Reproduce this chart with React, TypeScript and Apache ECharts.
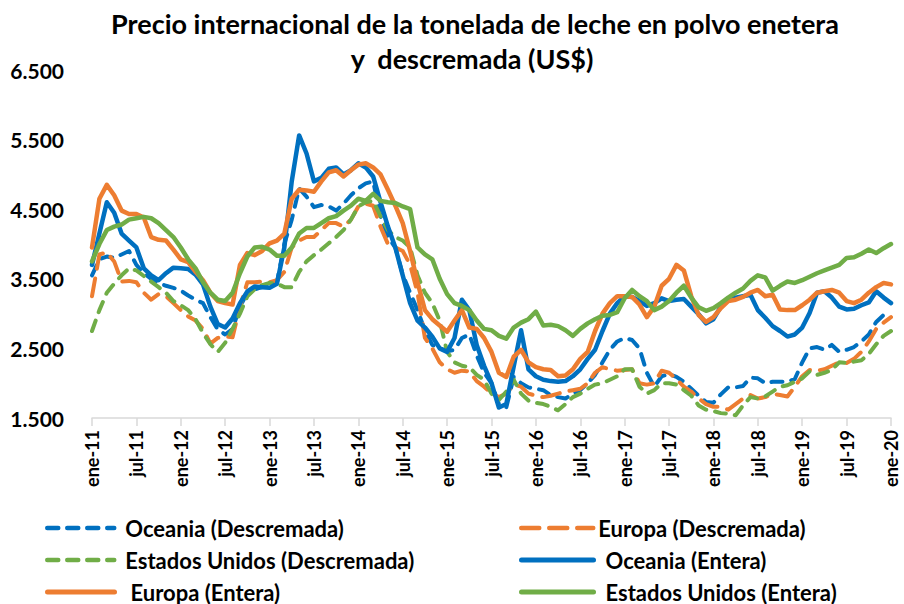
import React, { useEffect, useRef } from "react";
import * as echarts from "echarts";

const monthNames = ["ene", "feb", "mar", "abr", "may", "jun", "jul", "ago", "sep", "oct", "nov", "dic"];
const years = ["11", "12", "13", "14", "15", "16", "17", "18", "19"];
const categories: string[] = [];
years.forEach((y) => monthNames.forEach((m) => categories.push(`${m}-${y}`)));
categories.push("ene-20");

const yTicks = { min: 1500, max: 6500, step: 1000 };

const oceaniaDescremada = [
  3550, 3780, 3820, 3800, 3850, 3900, 3700, 3580, 3500, 3440, 3400, 3370,
  3330, 3260, 3200, 3150, 2950, 2770, 2700, 2780, 3100, 3300, 3350, 3380,
  3400, 3450, 4000, 4350, 4800, 4680, 4530, 4560, 4540, 4480, 4580, 4700,
  4800, 4870, 4900, 4400, 4100, 3950, 3560, 3300, 3050, 2760, 2550, 2500,
  2460, 2480, 2650, 2700, 2400, 2150, 2000, 1700, 1650, 2090, 2000, 1940,
  1920, 1900, 1830, 1800, 1780, 1850, 1900, 2000, 2120, 2300, 2480, 2600,
  2650, 2620, 2500, 2150, 1950, 2100, 2130, 2090, 2020, 1920, 1820, 1730,
  1720, 1840, 1940, 1940, 1960, 2080, 2070, 2000, 2020, 2020, 2020, 2060,
  2300, 2500, 2520, 2480, 2550, 2450, 2480, 2520, 2600, 2700, 2880, 2980,
  2980,
];

const europaDescremada = [
  3250, 3850, 3880, 3750, 3460, 3470, 3450, 3300, 3200, 3280, 3250, 3150,
  3050, 2960, 2900, 2780, 2570, 2650, 2670, 2660, 3100, 3450, 3450, 3460,
  3450, 3480, 3600, 3950, 4050, 4100, 4100, 4200, 4300, 4300, 4250, 4350,
  4540, 4580, 4550, 4250, 4000, 3950, 3900, 3700, 3300, 2650, 2500, 2300,
  2200, 2150, 2180, 2170, 2030, 1950, 1850, 1800, 1850, 1980, 1950, 1850,
  1820, 1800, 1820, 1850, 1880, 1900, 1920, 2000, 2150, 2230, 2200, 2180,
  2190, 2200, 2000, 1980, 2000, 2180, 2150, 2060, 1950, 1880, 1780, 1700,
  1660, 1660, 1620, 1700, 1780, 1830, 1780, 1800, 1850, 1830, 1810, 1950,
  2100, 2190, 2180, 2200, 2250, 2300, 2290, 2350, 2450, 2600, 2780, 2870,
  2950,
];

const eeuuDescremada = [
  2750, 3050, 3300, 3430, 3550, 3650, 3620, 3540, 3460, 3380, 3300, 3180,
  3120, 3050, 2920, 2720, 2560, 2450, 2580, 2780, 3000, 3250, 3350, 3410,
  3440, 3430, 3380, 3380, 3600, 3750, 3840, 3920, 4010, 4100, 4200, 4350,
  4540, 4600, 4620, 4400, 4200, 4100, 4050, 3950, 3550, 3300, 3150, 2900,
  2450, 2300, 2250, 2230, 2120, 2050, 1850, 1760, 1880, 2050, 1850, 1750,
  1720, 1700, 1660, 1610, 1700, 1800, 1850, 1920, 1980, 2000, 2050, 2100,
  2200, 2200, 1950, 1850, 1900, 2000, 2000, 1980, 1900, 1820, 1680, 1620,
  1600, 1570, 1560, 1540, 1680, 1800, 1780, 1810, 1880, 1950, 1970, 2020,
  2070, 2170, 2120, 2150, 2190, 2300, 2290, 2310, 2330, 2420, 2560, 2680,
  2750,
];

const oceaniaEntera = [
  3700, 4150, 4600, 4450, 4150, 4050, 3950, 3650, 3550, 3480, 3580, 3660,
  3650, 3640, 3560, 3420, 3100, 2850, 2800, 2930, 3150, 3320, 3390, 3380,
  3370, 3430, 3950, 4900, 5560, 5300, 4900, 4950, 5080, 5100, 5000, 5060,
  5160, 5100, 4970, 4600, 4250, 3950, 3550, 3150, 2900, 2800, 2670, 2500,
  2450, 2650, 3200, 3050, 2550, 2250, 2000, 1650, 1700, 2240, 2760, 2200,
  2100, 2050, 2030, 2020, 2030, 2100, 2200, 2350, 2480, 2750, 3000, 3150,
  3250, 3240, 3180, 3110, 3150, 3220, 3180, 3200, 3210, 3100, 2990, 2860,
  2920, 3100, 3220, 3230, 3250, 3270, 3050, 2940, 2820, 2750, 2670, 2700,
  2800, 3010, 3300, 3320, 3230, 3100, 3060, 3070, 3120, 3160, 3320, 3230,
  3150,
];

const europaEntera = [
  3950, 4650, 4850, 4700, 4480, 4430, 4430, 4380, 4100, 4060, 4050, 3920,
  3780, 3740, 3600, 3480, 3300, 3180, 3150, 3130, 3700, 3870, 3840, 3900,
  4010, 4050, 4150, 4650, 4780, 4770, 4750, 4900, 5030, 5060, 4970, 5060,
  5140, 5160, 5100, 5000, 4780, 4550, 4300, 3900, 3450, 3050, 2920, 2830,
  2740, 2900, 3050, 2800, 2780, 2650, 2450, 2150, 2090, 2380, 2480, 2300,
  2230, 2200, 2190, 2100, 2110, 2200, 2350, 2450, 2750, 3000, 3150, 3250,
  3250, 3240, 3130, 2950, 3100, 3400, 3500, 3700, 3620, 3250, 2980, 2880,
  2950, 3080, 3180, 3200, 3240, 3300, 3340, 3250, 3270, 3060, 3050, 3050,
  3120, 3200, 3300, 3320, 3340, 3300, 3180, 3150, 3200, 3300, 3380, 3440,
  3420,
];

const eeuuEntera = [
  3750, 4000, 4200, 4250, 4280, 4350, 4370, 4390, 4370, 4300, 4200, 4100,
  3950, 3780, 3650, 3450, 3300, 3200, 3180, 3300, 3580, 3820, 3950, 3960,
  3920, 3830, 3830, 3950, 4150, 4230, 4230, 4300, 4370, 4400, 4480, 4550,
  4650, 4620, 4720, 4620, 4600, 4590, 4540, 4500, 3950, 3850, 3780, 3500,
  3280, 3150, 3110, 3050, 2900, 2780, 2760, 2680, 2640, 2800, 2870, 2920,
  3030, 2830, 2840, 2820, 2760, 2680, 2780, 2860, 2920, 2970, 2980, 3020,
  3220, 3340, 3250, 3180, 3050, 3100, 3180, 3300, 3400, 3230, 3090, 3040,
  3080, 3150, 3230, 3300, 3360, 3470, 3550, 3520, 3330, 3400, 3460, 3440,
  3480, 3530, 3580, 3620, 3660, 3700, 3800, 3810, 3860, 3920, 3870, 3940,
  4000,
];

const seriesNames = [
  "Oceania (Descremada)",
  "Europa (Descremada)",
  "Estados Unidos (Descremada)",
  "Oceania (Entera)",
  "Europa (Entera)",
  "Estados Unidos (Entera)",
];

const BLUE = "#0070C0";
const ORANGE = "#ED7D31";
const GREEN = "#70AD47";
const FONT = "Lato";

function fmt(v: number) {
  const th = Math.floor(v / 1000);
  const rest = String(v % 1000).padStart(3, "0");
  return th > 0 ? `${th}.${rest}` : String(v);
}

export default function App() {
  const ref = useRef<HTMLDivElement>(null);
  useEffect(() => {
    if (!ref.current) return;
    const chart = echarts.init(ref.current, undefined, { renderer: "svg" });
    const dataList = [oceaniaDescremada, europaDescremada, eeuuDescremada, oceaniaEntera, europaEntera, eeuuEntera];
    const colors = [BLUE, ORANGE, GREEN, BLUE, ORANGE, GREEN];
    const dashes: (number[] | string)[] = [[11, 9], [18, 10], [11, 9], "solid", "solid", "solid"];
    const widths = [4, 4, 4, 4.5, 4.5, 4.5];

    const legendPos = [
      { left: 45, top: 517, w: 67, pad: 6 },
      { left: 519, top: 517, w: 72, pad: 0 },
      { left: 45, top: 549, w: 67, pad: 6 },
      { left: 519, top: 549, w: 72, pad: 7 },
      { left: 45, top: 581, w: 67, pad: 11 },
      { left: 519, top: 581, w: 72, pad: 7 },
    ];

    const titleStyle = { fontFamily: FONT, fontSize: 27, fontWeight: "bold", color: "#000" };

    const option: any = {
      animation: false,
      backgroundColor: "#ffffff",
      textStyle: { fontFamily: FONT },
      title: [
        {
          text: "Precio internacional de la tonelada de leche en polvo enetera",
          left: 470,
          top: 5,
          textAlign: "center",
          textStyle: titleStyle,
        },
        {
          text: "y  descremada (US$)",
          left: 467,
          top: 40,
          textAlign: "center",
          textStyle: titleStyle,
        },
      ],
      grid: { left: 92, right: 13, top: 70, bottom: 186, containLabel: false },
      xAxis: {
        type: "category",
        data: categories,
        boundaryGap: false,
        axisLine: { lineStyle: { color: "#D9D9D9", width: 1.5 } },
        axisTick: { interval: 5, length: 8, lineStyle: { color: "#D9D9D9", width: 1.5 } },
        axisLabel: {
          interval: 5,
          rotate: 90,
          fontFamily: FONT,
          fontSize: 18,
          fontWeight: "bold",
          color: "#000",
          margin: 12,
        },
        splitLine: { show: false },
      },
      yAxis: {
        type: "value",
        min: yTicks.min,
        max: yTicks.max,
        interval: yTicks.step,
        axisLine: { show: false },
        axisTick: { show: false },
        splitLine: { show: false },
        axisLabel: {
          formatter: (v: number) => fmt(v),
          fontFamily: FONT,
          fontSize: 21,
          fontWeight: "bold",
          color: "#000",
          margin: 28,
        },
      },
      legend: seriesNames.map((n, k) => ({
        data: [n],
        left: legendPos[k].left,
        top: legendPos[k].top,
        padding: 0,
        itemWidth: legendPos[k].w,
        itemHeight: 22,
        lineStyle: { width: widths[k] + 0.5 },
        itemStyle: { opacity: 0 },
        textStyle: {
          fontFamily: FONT,
          fontSize: 22,
          lineHeight: 22,
          fontWeight: "bold",
          color: "#000",
          padding: [0, 0, 0, legendPos[k].pad],
        },
      })),
      series: seriesNames.map((n, k) => ({
        name: n,
        type: "line",
        data: dataList[k],
        symbol: "none",
        showSymbol: false,
        smooth: false,
        color: colors[k],
        lineStyle: { color: colors[k], width: widths[k], type: dashes[k], cap: "round", join: "round" },
        z: k < 3 ? 2 : 3,
      })),
    };
    chart.setOption(option);
    return () => chart.dispose();
  }, []);
  return (
    <div
      ref={ref}
      style={{ position: "fixed", left: 0, top: 0, width: 904, height: 604, background: "#fff" }}
    />
  );
}
